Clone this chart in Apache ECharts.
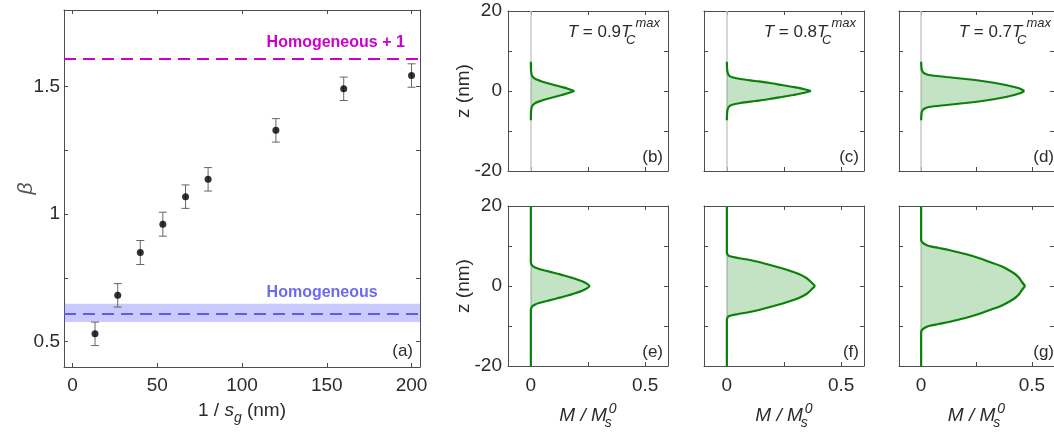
<!DOCTYPE html>
<html>
<head>
<meta charset="utf-8">
<script src="https://cdn.jsdelivr.net/npm/echarts@6/dist/echarts.min.js"></script>
<style>
html,body{margin:0;padding:0;background:#ffffff;}
#chart{width:1054px;height:437px;}
</style>
</head>
<body>
<div id="chart"></div>
<script>
// ---------------- data: panel (a) ----------------
const betaX   = [13.3, 26.7, 40, 53.3, 66.7, 80, 120, 160, 200];
const betaY   = [0.530, 0.681, 0.849, 0.960, 1.068, 1.136, 1.328, 1.491, 1.543];
const betaErr = [0.046, 0.046, 0.047, 0.047, 0.046, 0.046, 0.046, 0.046, 0.046];
const homogeneous      = 0.613;
const homogeneousBand  = [0.576, 0.648];
const homogeneousPlus1 = 1.615;
const xTicksA  = [0, 50, 100, 150, 200];
const yTicksA  = [0.5, 0.75, 1, 1.25, 1.5];
const yLabelsA = [0.5, 1, 1.5];

// ---------------- data: profiles (M/Ms0 vs z) ----------------
const zB = [7.3, 5, 4, 3.5, 3, 2.5, 2, 1.5, 1, 0.5, 0, -0.5, -1, -1.5, -2, -2.5, -3, -3.5, -4, -5, -7.3];
const mB = [0, 0.001, 0.004, 0.009, 0.02, 0.042, 0.07, 0.103, 0.135, 0.165, 0.19, 0.165, 0.135, 0.103, 0.07, 0.042, 0.02, 0.009, 0.004, 0.001, 0];
const zC = [7.3, 5, 4, 3.5, 3, 2.5, 2, 1.5, 1, 0.5, 0, -0.5, -1, -1.5, -2, -2.5, -3, -3.5, -4, -5, -7.3];
const mC = [0, 0.002, 0.008, 0.02, 0.06, 0.125, 0.188, 0.24, 0.29, 0.335, 0.368, 0.335, 0.29, 0.24, 0.188, 0.125, 0.06, 0.02, 0.008, 0.002, 0];
const zD = [7.3, 5.5, 5, 4.5, 4, 3.5, 3, 2.5, 2, 1.5, 1, 0.5, 0, -0.5, -1, -1.5, -2, -2.5, -3, -3.5, -4, -4.5, -5, -5.5, -7.3];
const mD = [0, 0.002, 0.005, 0.012, 0.035, 0.115, 0.2, 0.275, 0.335, 0.382, 0.42, 0.45, 0.466, 0.45, 0.42, 0.382, 0.335, 0.275, 0.2, 0.115, 0.035, 0.012, 0.005, 0.002, 0];
const zE = [20, 6, 5.5, 5, 4.6, 4.2, 3.75, 3.3, 2.9, 2.5, 2.1, 1.25, 0.6, 0, -0.6, -1.25, -2.1, -2.5, -2.9, -3.3, -3.75, -4.2, -4.6, -5, -5.5, -6, -20];
const mE = [0, 0, 0.002, 0.008, 0.019, 0.04, 0.07, 0.1, 0.128, 0.153, 0.178, 0.222, 0.245, 0.258, 0.245, 0.222, 0.178, 0.153, 0.128, 0.1, 0.07, 0.04, 0.019, 0.008, 0.002, 0, 0];
const zF = [20, 8.5, 8, 7.5, 7, 6.5, 6, 5, 4, 3, 2, 1, 0, -1, -2, -3, -4, -5, -6, -6.5, -7, -7.5, -8, -8.5, -20];
const mF = [0, 0, 0.002, 0.01, 0.05, 0.1, 0.14, 0.205, 0.265, 0.315, 0.348, 0.368, 0.386, 0.368, 0.348, 0.315, 0.265, 0.205, 0.14, 0.1, 0.05, 0.01, 0.002, 0, 0];
const zG = [20, 11.5, 11, 10.5, 10, 9.5, 9, 8, 7, 6, 5, 4, 3, 2, 1, 0, -1, -2, -3, -4, -5, -6, -7, -8, -9, -9.5, -10, -10.5, -11, -11.5, -20];
const mG = [0, 0, 0.004, 0.015, 0.035, 0.08, 0.125, 0.2, 0.26, 0.31, 0.36, 0.395, 0.424, 0.443, 0.455, 0.47, 0.455, 0.443, 0.424, 0.395, 0.36, 0.31, 0.26, 0.2, 0.125, 0.08, 0.035, 0.015, 0.004, 0, 0];
const tempLabels  = ['0.9', '0.8', '0.7'];
const panelTags   = ['(b)', '(c)', '(d)', '(e)', '(f)', '(g)'];
const mTicks  = [0, 0.25, 0.5];
const mLabels = [0, 0.5];
const zTicks  = [-20, -10, 0, 10, 20];
const zLabels = [-20, 0, 20];

// ---------------- styling ----------------
const FONT  = "'Liberation Sans', Arial, Helvetica, sans-serif";
const FRAME = '#4d4d4d';
const TXT   = '#2b2b2b';
const GREEN = '#0a820a';
const MAG   = '#cc00cc';
const BLUE  = '#5c5cf2';

const chart = echarts.init(document.getElementById('chart'), null, {renderer: 'canvas'});

const axisLine = {show: true, onZero: false, lineStyle: {color: FRAME, width: 1}};
const tickStyle = {color: FRAME, width: 1};
const richText = {
  n:   {fontSize: 19, fontFamily: FONT, color: TXT, lineHeight: 28},
  i:   {fontSize: 19, fontFamily: FONT, color: TXT, fontStyle: 'italic', lineHeight: 28},
  sub: {fontSize: 14, fontFamily: FONT, color: TXT, fontStyle: 'italic', verticalAlign: 'bottom', lineHeight: 16},
  subw:{fontSize: 14, fontFamily: FONT, color: TXT, fontStyle: 'italic', verticalAlign: 'bottom', lineHeight: 16, width: 1, padding: [0, 0, 0, 1]},
  sup: {fontSize: 14, fontFamily: FONT, color: TXT, fontStyle: 'italic', verticalAlign: 'top', lineHeight: 16}
};

const grids = [], xAxes = [], yAxes = [], series = [];

// ---------- panel (a) ----------
grids.push({left: 64, top: 10, width: 356, height: 357});
xAxes.push({
  gridIndex: 0, type: 'value', min: -5, max: 205, position: 'bottom',
  axisLine: axisLine,
  axisTick: {show: true, inside: true, length: 4, customValues: xTicksA, lineStyle: tickStyle},
  axisLabel: {show: true, customValues: xTicksA, fontSize: 19, fontFamily: FONT, color: TXT, margin: 9},
  splitLine: {show: false},
  name: '{n|1 / }{i|s}{sub|g}{n| (nm)}', nameLocation: 'middle', nameGap: 30, nameMoveOverlap: false,
  nameTextStyle: {rich: richText}
});
xAxes.push({
  gridIndex: 0, type: 'value', min: -5, max: 205, position: 'top',
  axisLine: axisLine,
  axisTick: {show: true, inside: true, length: 4, customValues: xTicksA, lineStyle: tickStyle},
  axisLabel: {show: false}, splitLine: {show: false}
});
yAxes.push({
  gridIndex: 0, type: 'value', min: 0.4, max: 1.8, position: 'left',
  axisLine: axisLine,
  axisTick: {show: true, inside: true, length: 4, customValues: yTicksA, lineStyle: tickStyle},
  axisLabel: {show: true, customValues: yLabelsA, fontSize: 19, fontFamily: FONT, color: TXT, margin: 4},
  splitLine: {show: false},
  name: 'β', nameLocation: 'middle', nameGap: 27, nameRotate: 90, nameMoveOverlap: false,
  nameTextStyle: {fontSize: 21, fontFamily: FONT, fontStyle: 'italic', color: '#555'}
});
yAxes.push({
  gridIndex: 0, type: 'value', min: 0.4, max: 1.8, position: 'right',
  axisLine: axisLine,
  axisTick: {show: true, inside: true, length: 4, customValues: yTicksA, lineStyle: tickStyle},
  axisLabel: {show: false}, splitLine: {show: false}
});

series.push({
  type: 'custom', xAxisIndex: 0, yAxisIndex: 0, z: 3, silent: true,
  data: betaX.map((x, i) => [x, betaY[i], betaErr[i]]),
  renderItem: function (params, api) {
    const x = api.value(0), y = api.value(1), e = api.value(2);
    const t = api.coord([x, y + e]), b = api.coord([x, y - e]);
    const w = 4;
    const st = {stroke: '#666', lineWidth: 1};
    return {type: 'group', children: [
      {type: 'line', shape: {x1: t[0], y1: t[1], x2: b[0], y2: b[1]}, style: st},
      {type: 'line', shape: {x1: t[0] - w, y1: t[1], x2: t[0] + w, y2: t[1]}, style: st},
      {type: 'line', shape: {x1: b[0] - w, y1: b[1], x2: b[0] + w, y2: b[1]}, style: st}
    ]};
  }
});
series.push({
  type: 'scatter', xAxisIndex: 0, yAxisIndex: 0, z: 4, silent: true,
  symbol: 'circle', symbolSize: 7, itemStyle: {color: '#000'},
  data: betaX.map((x, i) => [x, betaY[i]]),
  markArea: {
    silent: true, z: 1,
    itemStyle: {color: 'rgba(90,90,255,0.32)'},
    data: [[{yAxis: homogeneousBand[0]}, {yAxis: homogeneousBand[1]}]]
  },
  markLine: {
    silent: true, z: 2, symbol: ['none', 'none'], label: {show: false}, animation: false,
    data: [
      {yAxis: homogeneousPlus1, lineStyle: {color: MAG, width: 2, type: [12, 7]}},
      {yAxis: homogeneous, lineStyle: {color: BLUE, width: 2, type: [12, 7]}}
    ]
  }
});

// ---------- profile panels (b)-(g) ----------
const PANEL_LEFT = [508, 704, 899];
const PANEL_TOP  = [11, 206];
const PANEL_SIZE = 160;
const profiles = [[mB, zB], [mC, zC], [mD, zD], [mE, zE], [mF, zF], [mG, zG]];

profiles.forEach(function (p, k) {
  const row = k < 3 ? 0 : 1, col = k % 3, gi = k + 1;
  grids.push({left: PANEL_LEFT[col], top: PANEL_TOP[row], width: PANEL_SIZE, height: PANEL_SIZE});
  const xb = xAxes.length;
  xAxes.push({
    gridIndex: gi, type: 'value', min: -0.1, max: 0.6, position: 'bottom',
    axisLine: axisLine,
    axisTick: {show: true, inside: true, length: 4, customValues: mTicks, lineStyle: tickStyle},
    axisLabel: {show: row === 1, customValues: mLabels, fontSize: 19, fontFamily: FONT, color: TXT, margin: 10},
    splitLine: {show: false},
    name: row === 1 ? '{i|M / M}{subw|s}{sup|0}' : '', nameLocation: 'middle', nameGap: 36, nameMoveOverlap: false,
    nameTextStyle: {rich: richText}
  });
  xAxes.push({
    gridIndex: gi, type: 'value', min: -0.1, max: 0.6, position: 'top',
    axisLine: axisLine,
    axisTick: {show: true, inside: true, length: 4, customValues: mTicks, lineStyle: tickStyle},
    axisLabel: {show: false}, splitLine: {show: false}
  });
  const yl = yAxes.length;
  yAxes.push({
    gridIndex: gi, type: 'value', min: -20, max: 20, position: 'left',
    axisLine: axisLine,
    axisTick: {show: true, inside: true, length: 4, customValues: zTicks, lineStyle: tickStyle},
    axisLabel: {show: col === 0, customValues: zLabels, fontSize: 19, fontFamily: FONT, color: TXT, margin: 6},
    splitLine: {show: false},
    name: col === 0 ? 'z (nm)' : '', nameLocation: 'middle', nameGap: 35, nameRotate: 90, nameMoveOverlap: false,
    nameTextStyle: {fontSize: 19, fontFamily: FONT, color: TXT}
  });
  yAxes.push({
    gridIndex: gi, type: 'value', min: -20, max: 20, position: 'right',
    axisLine: axisLine,
    axisTick: {show: true, inside: true, length: 4, customValues: zTicks, lineStyle: tickStyle},
    axisLabel: {show: false}, splitLine: {show: false}
  });
  const pts = p[0].map((m, i) => [m, p[1][i]]);
  const peak = p[1].indexOf(0);
  series.push({
    type: 'custom', xAxisIndex: xb, yAxisIndex: yl, z: 2, silent: true,
    data: [[0, 0]],
    renderItem: function (params, api) {
      return {
        type: 'polygon',
        shape: {points: pts.map(d => api.coord(d))},
        style: {fill: 'rgba(0,128,0,0.23)', stroke: null}
      };
    }
  });
  [pts.slice(0, peak + 1), pts.slice(peak)].forEach(function (half, h) {
    const s = {
      type: 'line', xAxisIndex: xb, yAxisIndex: yl, z: 3, silent: true,
      data: half, showSymbol: false, smooth: 0.3,
      lineStyle: {color: GREEN, width: 2.2}
    };
    if (h === 0) {
      s.markLine = {
        silent: true, z: 1, symbol: ['none', 'none'], label: {show: false}, animation: false,
        lineStyle: {color: '#c8c8c8', width: 1.5, type: 'solid'},
        data: [{xAxis: 0}]
      };
    }
    series.push(s);
  });
});

chart.setOption({
  animation: false,
  backgroundColor: '#ffffff',
  grid: grids, xAxis: xAxes, yAxis: yAxes, series: series
});

// ---------- text annotations ----------
const graphics = [];
const pPlus = chart.convertToPixel({gridIndex: 0}, [114.5, 1.674]);
const pHom  = chart.convertToPixel({gridIndex: 0}, [114.5, 0.690]);
graphics.push({type: 'text', x: pPlus[0], y: pPlus[1], z: 100, silent: true,
  style: {text: 'Homogeneous + 1', fontSize: 16, fontWeight: 'bold', fontFamily: FONT, fill: MAG, align: 'left', verticalAlign: 'middle'}});
graphics.push({type: 'text', x: pHom[0], y: pHom[1], z: 100, silent: true,
  style: {text: 'Homogeneous', fontSize: 16, fontWeight: 'bold', fontFamily: FONT, fill: '#6a6af5', align: 'left', verticalAlign: 'middle'}});
graphics.push({type: 'text', x: 413, y: 351, z: 100, silent: true,
  style: {text: '(a)', fontSize: 17, fontFamily: FONT, fill: TXT, align: 'right', verticalAlign: 'middle'}});

const titleRich = {
  n:   {fontSize: 17, fontFamily: FONT, fill: TXT, color: TXT, lineHeight: 30},
  i:   {fontSize: 17, fontFamily: FONT, fill: TXT, color: TXT, fontStyle: 'italic', lineHeight: 30},
  subw:{fontSize: 13, fontFamily: FONT, fill: TXT, color: TXT, fontStyle: 'italic', verticalAlign: 'bottom', lineHeight: 15, width: 1, padding: [0, 0, 0, 3]},
  sup: {fontSize: 13, fontFamily: FONT, fill: TXT, color: TXT, fontStyle: 'italic', verticalAlign: 'top', lineHeight: 15}
};
for (let k = 0; k < 6; k++) {
  const row = k < 3 ? 0 : 1, col = k % 3;
  const right = PANEL_LEFT[col] + PANEL_SIZE;
  const top = PANEL_TOP[row];
  if (row === 0) {
    graphics.push({type: 'text', x: right - 8, y: top + 21, z: 100, silent: true,
      style: {text: '{i|T}{n| = ' + tempLabels[col] + '}{i|T}{subw|C}{sup|max}', rich: titleRich,
              align: 'right', verticalAlign: 'middle'}});
  }
  graphics.push({type: 'text', x: right - 5, y: top + PANEL_SIZE - 14, z: 100, silent: true,
    style: {text: panelTags[k], fontSize: 17, fontFamily: FONT, fill: TXT, align: 'right', verticalAlign: 'middle'}});
}
chart.setOption({graphic: graphics});
</script>
</body>
</html>
